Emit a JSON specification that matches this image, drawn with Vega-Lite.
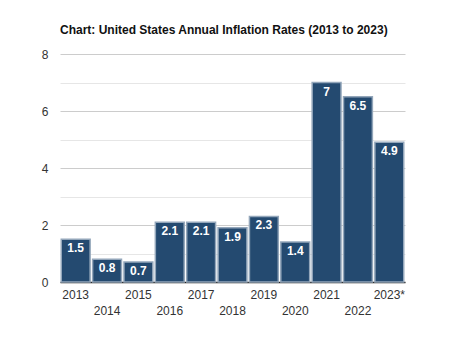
{
  "$schema": "https://vega.github.io/schema/vega-lite/v6.json",
  "width": 345,
  "height": 228,
  "autosize": {"type": "none"},
  "padding": {"left": 60, "top": 54, "right": 45, "bottom": 71},
  "background": "white",
  "title": {
    "text": "Chart: United States Annual Inflation Rates (2013 to 2023)",
    "anchor": "start",
    "frame": "group",
    "font": "Liberation Sans",
    "fontSize": 12,
    "fontWeight": "bold",
    "color": "#111111",
    "offset": 11
  },
  "config": {
    "view": {"stroke": null},
    "font": "Liberation Sans"
  },
  "data": {
    "values": [
      {"year": "2013", "rate": 1.5, "label": "1.5"},
      {"year": "2014", "rate": 0.8, "label": "0.8"},
      {"year": "2015", "rate": 0.7, "label": "0.7"},
      {"year": "2016", "rate": 2.1, "label": "2.1"},
      {"year": "2017", "rate": 2.1, "label": "2.1"},
      {"year": "2018", "rate": 1.9, "label": "1.9"},
      {"year": "2019", "rate": 2.3, "label": "2.3"},
      {"year": "2020", "rate": 1.4, "label": "1.4"},
      {"year": "2021", "rate": 7, "label": "7"},
      {"year": "2022", "rate": 6.5, "label": "6.5"},
      {"year": "2023*", "rate": 4.9, "label": "4.9"}
    ]
  },
  "encoding": {
    "x": {
      "field": "year",
      "type": "nominal",
      "sort": null,
      "scale": {"paddingInner": 0.08, "paddingOuter": 0.04},
      "axis": {
        "title": null,
        "labelAngle": 0,
        "ticks": false,
        "domain": true,
        "domainColor": "#222222",
        "domainWidth": 1.5,
        "labelFontSize": 12,
        "labelColor": "#333333",
        "labelPadding": 7,
        "labelLineHeight": 16,
        "labelExpr": "indexof(['2014','2016','2018','2020','2022'], datum.value) >= 0 ? ['', datum.label] : datum.label"
      }
    },
    "y": {
      "field": "rate",
      "type": "quantitative",
      "scale": {"domain": [0, 8], "nice": false},
      "axis": {
        "title": null,
        "values": [0, 1, 2, 3, 4, 5, 6, 7, 8],
        "labelExpr": "datum.value % 2 == 0 ? datum.label : ''",
        "ticks": false,
        "domain": false,
        "labelFontSize": 12,
        "labelColor": "#333333",
        "labelPadding": 12,
        "gridColor": {"expr": "datum.value % 2 == 0 ? '#cccccc' : '#e6e6e6'"},
        "gridWidth": 1
      }
    }
  },
  "layer": [
    {
      "mark": {"type": "bar", "color": "#244a70", "stroke": "#93a6ba", "strokeWidth": 1.5}
    },
    {
      "mark": {"type": "text", "baseline": "middle", "dy": 9, "color": "white", "fontSize": 12, "fontWeight": "bold"},
      "encoding": {"text": {"field": "label"}}
    }
  ]
}
